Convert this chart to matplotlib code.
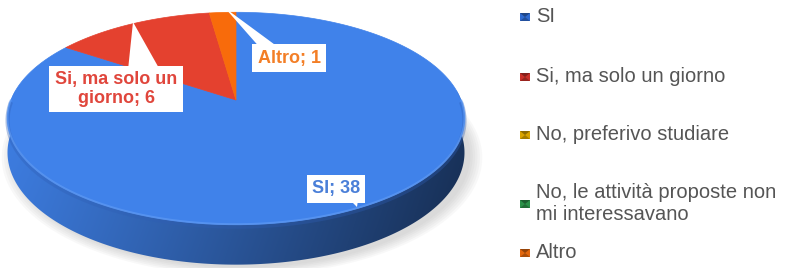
import numpy as np
import matplotlib.pyplot as plt
from matplotlib.patches import Polygon, Rectangle
from matplotlib.colors import to_rgb

plt.rcParams['font.family'] = ['Liberation Sans', 'DejaVu Sans']

# dati del grafico
categorie = ['SI', 'Si, ma solo un giorno', 'No, preferivo studiare',
             'No, le attività proposte non\nmi interessavano', 'Altro']
valori = [38, 6, 0, 0, 1]
etichette = ['SI; 38', 'Si, ma solo un\ngiorno; 6', '', '', 'Altro; 1']

# colori
colori = ['#4082EA', '#E4412F', '#E8B000', '#2E9E50', '#F86B0B']
colori_legenda = ['#2F6BD0', '#C93029', '#D9A400', '#2A9148', '#E2680F']
colori_testo = ['#4A7FD8', '#E0463C', '#E8B000', '#2E9E50', '#F37E26']

# geometria della torta 3D (in pixel)
cx, cy = 236, 100       # apice delle fette
A, B = 225, 103         # semiassi
c = 0.174               # prospettiva
D = 33                  # spessore

def proj(u, v, z=0.0):
    k = 1 / (1 + c * v)
    return cx + A * u * k, cy - B * v * k + D * z * k

tot = sum(valori)
# angoli (in gradi, senso orario a partire dalle ore 12)
inizi = np.cumsum([0] + valori[:-1]) / tot * 360
fini = np.cumsum(valori) / tot * 360

fig = plt.figure(figsize=(7.9, 2.68), dpi=100)
ax = fig.add_axes([0, 0, 1, 1])
ax.set_xlim(0, 790)
ax.set_ylim(268, 0)
ax.axis('off')

# ombra
tt = np.linspace(0, 2 * np.pi, 200)
for s in np.linspace(1.0, 1.05, 6):
    xs, ys = proj(np.cos(tt) * s, np.sin(tt) * s, 1.0)
    ax.add_patch(Polygon(np.c_[xs + 6, ys + 3], closed=True, fc='#808080',
                         ec='none', alpha=0.05, zorder=1))

# lato (sfumatura ritagliata sul profilo)
ts = np.linspace(np.pi * 0.97, np.pi * 2.03, 300)
xt, yt = proj(np.cos(ts), np.sin(ts), 0)
xb, yb = proj(np.cos(ts), np.sin(ts), 1)
lato = Polygon(np.r_[np.c_[xt, yt], np.c_[xb, yb][::-1]], closed=True,
               fc='none', ec='none')
ax.add_patch(lato)
gx = np.linspace(cx - A - 6, cx + A + 6, 500)
gy = np.linspace(cy - 10, 268, 200)
GX, GY = np.meshgrid(gx, gy)
s = np.clip((GX - (cx - A)) / (2 * A), 0, 1)
f = 0.95 - 0.56 * s ** 1.1 - 0.05 * np.clip((GY - 150) / 110, 0, 1)
img = np.clip(np.array(to_rgb(colori[0]))[None, None, :] * f[..., None], 0, 1)
im = ax.imshow(img, extent=[gx[0], gx[-1], gy[-1], gy[0]], origin='upper',
               aspect='auto', interpolation='bilinear', zorder=2)
im.set_clip_path(lato)

# faccia superiore
for i, v in enumerate(valori):
    if v == 0:
        continue
    t0 = np.radians(90 - inizi[i])
    t1 = np.radians(90 - fini[i])
    ang = np.linspace(t0, t1, max(int(abs(t1 - t0) * 60), 3))
    xs, ys = proj(np.cos(ang), np.sin(ang))
    pts = np.r_[[[cx, cy]], np.c_[xs, ys]]
    ax.add_patch(Polygon(pts, closed=True, fc=colori[i], ec=colori[i],
                         lw=0.5, zorder=3))

# bordo frontale sfumato
tf = np.linspace(np.pi, 2 * np.pi, 300)
xs, ys = proj(np.cos(tf), np.sin(tf))
ax.plot(xs, ys + 2, color='#2F5EB4', lw=3, alpha=0.35, zorder=3,
        solid_capstyle='butt')
ax.plot(xs, ys - 0.5, color='#5E9AF4', lw=1.4, alpha=0.7, zorder=3,
        solid_capstyle='butt')

# etichette con fumetto
pos_etichette = {0: (336, 189), 1: (116, 89), 4: (289, 58)}
code = {0: [(350, 200), (358, 200), (357, 207)],
        1: [(128, 70), (160, 70), (133, 22)],
        4: [(262, 50), (282, 50), (225, 8)]}
for i, (x, y) in pos_etichette.items():
    ax.add_patch(Polygon(code[i], closed=True, fc='white', ec='none', zorder=5))
    ax.text(x, y, etichette[i], ha='center', va='center', fontsize=13,
            fontweight='bold', color=colori_testo[i], linespacing=1.15,
            zorder=6, bbox=dict(boxstyle='square,pad=0.3', fc='white', ec='none'))

# legenda
leg_y = [17, 77, 135, 204, 253]
for i, cat in enumerate(categorie):
    y = leg_y[i]
    x0, x1, y0, y1 = 520, 530, y - 4, y + 4
    xc = (x0 + x1) / 2
    base = np.array(to_rgb(colori_legenda[i]))
    ax.add_patch(Rectangle((x0, y0), x1 - x0, y1 - y0, fc=base, ec='none', zorder=4))
    ax.add_patch(Polygon([(x0, y0), (x1, y0), (xc, y)], closed=True,
                         fc=base * 0.65, ec='none', zorder=4))
    ax.add_patch(Polygon([(x0, y1), (x1, y1), (xc, y)], closed=True,
                         fc=base * 0.75, ec='none', zorder=4))
    ax.text(536, y, cat, ha='left', va='center', fontsize=14.5, color='#555555',
            linespacing=1.2, zorder=6)

fig.savefig('out.png', dpi=100)
